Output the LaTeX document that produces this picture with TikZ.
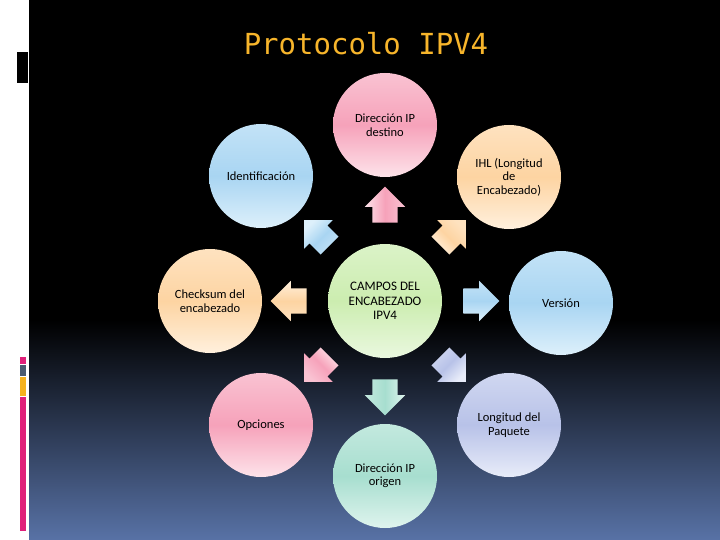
\documentclass[tikz,border=0pt]{standalone}
\usepackage{fontspec}
\setmainfont{Carlito}
\newfontfamily\titlefont{DejaVu Sans Mono}
\usetikzlibrary{shapes.arrows,calc}

\definecolor{rosaM}{HTML}{F6A2BA}
\definecolor{rosaL}{HTML}{FDE3EA}
\definecolor{naranjaM}{HTML}{FDD4A2}
\definecolor{naranjaL}{HTML}{FFF0DD}
\definecolor{azulM}{HTML}{A9D5F2}
\definecolor{azulL}{HTML}{DDF0FB}
\definecolor{verdeM}{HTML}{CCEDB0}
\definecolor{verdeL}{HTML}{EAF8DF}
\definecolor{lilaM}{HTML}{B8C2E8}
\definecolor{lilaL}{HTML}{E8ECF9}
\definecolor{mentaM}{HTML}{A7DECF}
\definecolor{mentaL}{HTML}{DFF4EE}
\definecolor{titulo}{HTML}{F7B52B}
\definecolor{fondoAzul}{HTML}{5872A6}
\definecolor{barraRosa}{HTML}{E0207A}
\definecolor{barraGris}{HTML}{4A5A70}
\definecolor{barraAmbar}{HTML}{F5B21E}

\tikzset{
	campo/.style={circle, minimum size=104pt, inner sep=0pt, align=center,
	font=\fontsize{12.5}{13.5}\selectfont},
	flecha/.style={single arrow, minimum height=36pt, minimum width=40pt,
	single arrow head extend=7.5pt, inner xsep=0pt, inner ysep=12.5pt},
	rosa/.style={top color=rosaL!50!rosaM, bottom color=rosaL, middle color=rosaM},
	naranja/.style={top color=naranjaL!50!naranjaM, bottom color=naranjaL, middle color=naranjaM},
	azul/.style={top color=azulL!50!azulM, bottom color=azulL, middle color=azulM},
	verde/.style={top color=verdeL!50!verdeM, bottom color=verdeL, middle color=verdeM},
	lila/.style={top color=lilaL!50!lilaM, bottom color=lilaL, middle color=lilaM},
	menta/.style={top color=mentaL!50!mentaM, bottom color=mentaL, middle color=mentaM}
}

\begin{document}
\begin{tikzpicture}[x=1pt, y=-1pt]
	\useasboundingbox (0,0) rectangle (720,540);
	% Fondo
	\fill[white] (0,0) rectangle (720,540);
	\fill[black] (29,0) rectangle (720,320);
	\shade[top color=black, bottom color=fondoAzul] (29,320) rectangle (720,540);
	% Barras a la izquierda
	\fill[black] (17,52) rectangle (28,83);
	\fill[barraRosa] (20,357) rectangle (26,364);
	\fill[barraGris] (20,365) rectangle (26,376);
	\fill[barraAmbar] (20,377) rectangle (26,396);
	\fill[barraRosa] (20,397) rectangle (26,531);
	% Titulo
	\node[anchor=base, text=titulo, font=\titlefont\fontsize{29}{32}\selectfont]
	(titulo) at (366,55) {Protocolo IPV4};
	% Centro
	\node[campo, verde, minimum size=114pt, font=\fontsize{13}{14.5}\selectfont]
	(campos) at (385,301) {CAMPOS DEL\\ENCABEZADO\\IPV4};
	% Campos alrededor
	\node[campo, rosa] (destino) at (385,125) {Dirección IP\\destino};
	\node[campo, naranja] (ihl) at (509,177) {IHL (Longitud\\de\\Encabezado)};
	\node[campo, azul] (version) at (561,303) {Versión};
	\node[campo, lila] (longitud) at (509,425) {Longitud del\\Paquete};
	\node[campo, menta] (origen) at (385,476) {Dirección IP\\origen};
	\node[campo, rosa] (opciones) at (261,425) {Opciones};
	\node[campo, naranja] (checksum) at (210,301) {Checksum del\\encabezado};
	\node[campo, azul] (ident) at (261,176) {Identificación};
	% Flechas
	\foreach \ang/\col [count=\i] in {90/rosa, 45/naranja, 0/azul, -45/lila,
	-90/menta, -135/rosa, 180/naranja, 135/azul}
		\node[flecha, \col, rotate=\ang, shading angle=-\ang] (f\i)
		at ($(campos)+(\ang:90pt)$) {};
\end{tikzpicture}
\end{document}
